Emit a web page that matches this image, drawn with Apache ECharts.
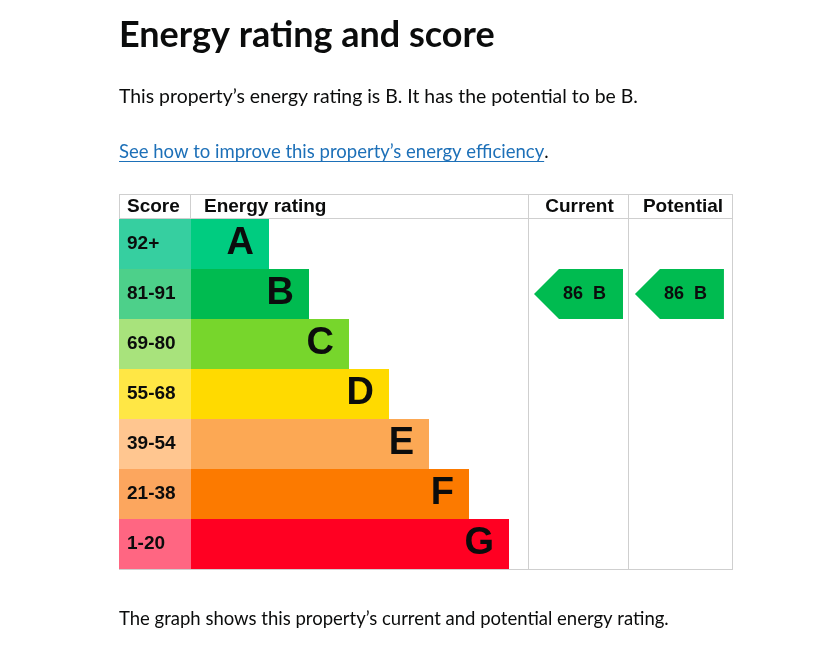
<!DOCTYPE html>
<html><head><meta charset="utf-8">
<script src="https://cdn.jsdelivr.net/npm/echarts@6/dist/echarts.min.js"></script>
<style>html,body{margin:0;padding:0;background:#fff}#c{width:820px;height:657px}</style>
</head><body><div id="c"></div>
<script>
// ---- data ----
const bands = ['A', 'B', 'C', 'D', 'E', 'F', 'G'];
const scoreRanges = ['92+', '81-91', '69-80', '55-68', '39-54', '21-38', '1-20'];
const barLength = [2, 3, 4, 5, 6, 7, 8];
const bandColors = ['#00cc80', '#00bb50', '#77d62c', '#ffda00', '#fca854', '#fc7a00', '#ff0022'];
const scoreColors = ['#36cfa0', '#4dd08a', '#a8e37c', '#ffe745', '#ffc690', '#fca65e', '#ff6682'];
const currentScore = 86, currentBand = 'B';
const potentialScore = 86, potentialBand = 'B';
const headers = ['Score', 'Energy rating', 'Current', 'Potential'];
const titleText = 'Energy rating and score';
const introText = 'This property\u2019s energy rating is B. It has the potential to be B.';
const linkText = 'See how to improve this property\u2019s energy efficiency';
const footText = 'The graph shows this property\u2019s current and potential energy rating.';

// ---- layout ----
const T = {left: 119, right: 733, top: 194, head: 219, bottom: 569, c1: 191, c2: 528, c3: 629};
const proseFont = 'Lato';
const tableFont = '"Liberation Sans", Arial, sans-serif';
const ink = '#0b0c0c';
const lineColor = '#cfcfcf';

function measure(text, font) {
  const cv = document.createElement('canvas').getContext('2d');
  cv.font = font;
  return cv.measureText(text).width;
}

const chart = echarts.init(document.getElementById('c'), null, {renderer: 'canvas'});
const rowsH = T.bottom - T.head;
const catY = (i) => ({type: 'category', gridIndex: i, data: bands, inverse: true, show: false});
const arrowPath = 'path://M0,25 L25,0 L89,0 L89,50 L25,50 Z';

const linkFontStr = '18.5px ' + proseFont;
const linkW = measure(linkText, linkFontStr);

const hl = (x1, y1, x2, y2) => ({type: 'line', silent: true, z: 10,
  shape: {x1, y1, x2, y2}, style: {stroke: lineColor, lineWidth: 1}});
const txt = (x, y, text, font, fill, align) => ({type: 'text', x, y, z: 10, silent: true,
  style: {text, font, fill: fill || ink, align: align || 'left', verticalAlign: 'middle'}});

chart.setOption({
  animation: false,
  grid: [
    {left: T.left, top: T.head, width: T.c1 - T.left, height: rowsH},
    {left: T.c1, top: T.head, width: T.c2 - T.c1, height: rowsH},
    {left: T.c2, top: T.head, width: T.c3 - T.c2, height: rowsH},
    {left: T.c3, top: T.head, width: T.right - T.c3, height: rowsH}
  ],
  xAxis: [
    {type: 'value', gridIndex: 0, min: 0, max: 1, show: false},
    {type: 'value', gridIndex: 1, min: 0.05, max: 0.05 + (T.c2 - T.c1) / 40, show: false},
    {type: 'value', gridIndex: 2, min: 0, max: 1, show: false},
    {type: 'value', gridIndex: 3, min: 0, max: 1, show: false}
  ],
  yAxis: [catY(0), catY(1), catY(2), catY(3)],
  series: [
    {
      type: 'bar', xAxisIndex: 0, yAxisIndex: 0, barWidth: '100%', barCategoryGap: 0,
      data: scoreRanges.map((s, i) => ({value: 1, itemStyle: {color: scoreColors[i]}})),
      label: {show: true, position: 'insideLeft', distance: 8,
        formatter: (p) => scoreRanges[p.dataIndex],
        fontFamily: tableFont, fontWeight: 'bold', fontSize: 19, color: ink}
    },
    {
      type: 'bar', xAxisIndex: 1, yAxisIndex: 1, barWidth: '100%', barCategoryGap: 0, clip: true,
      data: barLength.map((v, i) => ({value: v, itemStyle: {color: bandColors[i]}})),
      label: {show: true, position: 'insideRight', distance: 15,
        formatter: (p) => bands[p.dataIndex],
        fontFamily: tableFont, fontWeight: 'bold', fontSize: 38, color: ink}
    },
    {
      type: 'scatter', xAxisIndex: 2, yAxisIndex: 2, symbol: arrowPath, symbolSize: [89, 50],
      itemStyle: {color: bandColors[bands.indexOf(currentBand)], opacity: 1},
      data: [[0.5, currentBand]],
      label: {show: true, position: 'inside', offset: [6, 0],
        formatter: () => currentScore + '  ' + currentBand,
        fontFamily: tableFont, fontWeight: 'bold', fontSize: 18, color: ink}
    },
    {
      type: 'scatter', xAxisIndex: 3, yAxisIndex: 3, symbol: arrowPath, symbolSize: [89, 50],
      itemStyle: {color: bandColors[bands.indexOf(potentialBand)], opacity: 1},
      data: [[0.485, potentialBand]],
      label: {show: true, position: 'inside', offset: [6, 0],
        formatter: () => potentialScore + '  ' + potentialBand,
        fontFamily: tableFont, fontWeight: 'bold', fontSize: 18, color: ink}
    }
  ],
  graphic: [
    hl(T.left, T.top + 0.5, T.right, T.top + 0.5),
    hl(T.left, T.head - 0.5, T.right, T.head - 0.5),
    hl(T.left, T.bottom + 0.5, T.right, T.bottom + 0.5),
    hl(T.left + 0.5, T.top, T.left + 0.5, T.head),
    hl(T.right - 0.5, T.top, T.right - 0.5, T.bottom + 1),
    hl(T.c1 - 0.5, T.top, T.c1 - 0.5, T.head),
    hl(T.c2 + 0.5, T.top, T.c2 + 0.5, T.bottom + 1),
    hl(T.c3 - 0.5, T.top, T.c3 - 0.5, T.bottom + 1),
    txt(127, 207, headers[0], 'bold 19px ' + tableFont),
    txt(204, 207, headers[1], 'bold 19px ' + tableFont),
    txt((T.c2 + T.c3) / 2 + 1, 207, headers[2], 'bold 19px ' + tableFont, ink, 'center'),
    txt((T.c3 + T.right) / 2 + 2, 207, headers[3], 'bold 19px ' + tableFont, ink, 'center'),
    txt(119, 35, titleText, 'bold 36px ' + proseFont),
    txt(119, 97, introText, '19.4px ' + proseFont),
    txt(119, 152, linkText, linkFontStr, '#1d70b8'),
    txt(119 + linkW, 152, '.', linkFontStr),
    {type: 'line', silent: true, shape: {x1: 119, y1: 161.5, x2: 119 + linkW, y2: 161.5},
      style: {stroke: '#1d70b8', lineWidth: 1}},
    txt(119, 619, footText, '18.5px ' + proseFont)
  ]
});
</script></body></html>
